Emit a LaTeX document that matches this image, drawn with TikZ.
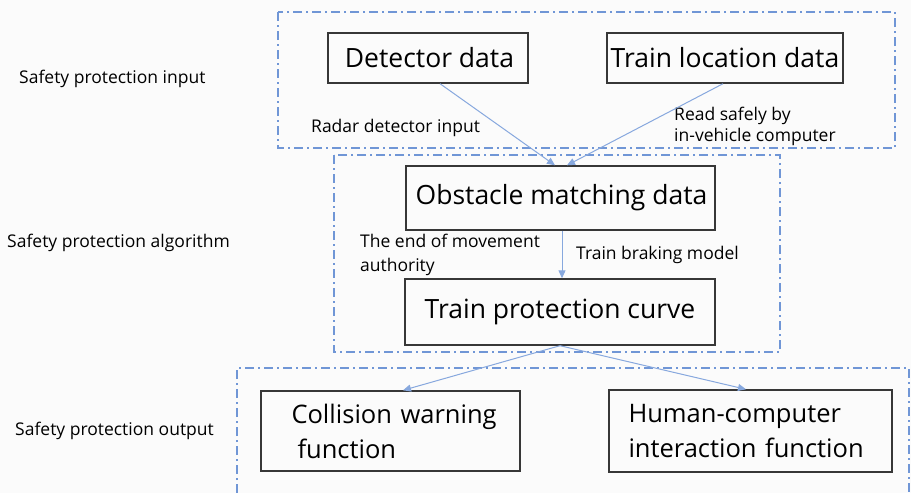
\documentclass[tikz,border=0pt]{standalone}
\usepackage{fontspec}
\setmainfont{Open Sans}
\usetikzlibrary{arrows.meta}
\definecolor{bg}{RGB}{251,251,251}
\definecolor{grpblue}{RGB}{112,150,214}
\definecolor{arrblue}{RGB}{135,168,222}
\definecolor{boxgray}{RGB}{55,55,55}
\tikzset{
  grp/.style={draw=grpblue, line width=1.8pt, dash pattern=on 9pt off 4pt on 2pt off 4pt},
  databox/.style={draw=boxgray, line width=1.4pt, inner sep=0pt, font=\fontsize{26.5}{31}\selectfont},
  funcbox/.style={draw=boxgray, line width=1.4pt, inner sep=0pt, align=left, font=\fontsize{25.5}{30}\selectfont},
  lbl/.style={inner sep=0pt, anchor=west, align=left, font=\fontsize{17.5}{22}\selectfont},
  flow/.style={draw=arrblue, line width=1pt, -{Triangle[length=8pt,width=7pt]}}
}
\begin{document}
\begin{tikzpicture}[x=1pt,y=-1pt]
\fill[bg] (0,0) rectangle (911,493);
\useasboundingbox (0,0) rectangle (911,493);
% group frames
\draw[grp] (278,12) rectangle (895,148);
\draw[grp] (334,155) rectangle (780,352);
\draw[grp] (237,493) -- (237,368) -- (909,368) -- (909,493);
% boxes
\node[databox, minimum width=200pt, minimum height=50pt] (det) at (428,58) {\hspace*{3pt}Detector data};
\node[databox, minimum width=236pt, minimum height=50pt] (loc) at (725,58) {Train location data};
\node[databox, minimum width=309pt, minimum height=64pt] (obs) at (560.5,198) {\hspace*{2pt}Obstacle matching data};
\node[databox, minimum width=310pt, minimum height=66pt] (tpc) at (560,312) {Train protection curve};
\node[funcbox, minimum width=259pt, minimum height=80pt, text width=224pt] (col) at (390.5,431) {\hspace*{13pt}Collision warning\\[5pt]\hspace*{19pt}function};
\node[funcbox, minimum width=283pt, minimum height=82pt, text width=244pt] (hci) at (750.5,431) {Human-computer\\[5pt]interaction function};
% side labels
\node[lbl] (lin) at (19,79) {Safety protection input};
\node[lbl] (lalg) at (7,243) {Safety protection algorithm};
\node[lbl] (lout) at (15,431) {Safety protection output};
% connector labels
\node[lbl] (lradar) at (311,128) {Radar detector input};
\node[lbl, font=\fontsize{17.5}{21}\selectfont] (lread) at (674,126) {Read safely by\\in-vehicle computer};
\node[lbl, font=\fontsize{17.5}{24}\selectfont] (lend) at (360,255) {The end of movement\\authority};
\node[lbl] (lbrake) at (576,255) {Train braking model};
% connectors
\draw[flow] ([xshift=12pt]det.south) -- ([xshift=-5.5pt]obs.north);
\draw[flow] ([xshift=-2pt]loc.south) -- ([xshift=6.5pt]obs.north);
\draw[flow] ([xshift=1.5pt]obs.south) -- ([xshift=2pt]tpc.north);
\draw[flow] (tpc.south) -- ([xshift=12.5pt]col.north);
\draw[flow] (tpc.south) -- ([xshift=-4.5pt]hci.north);
\end{tikzpicture}
\end{document}
